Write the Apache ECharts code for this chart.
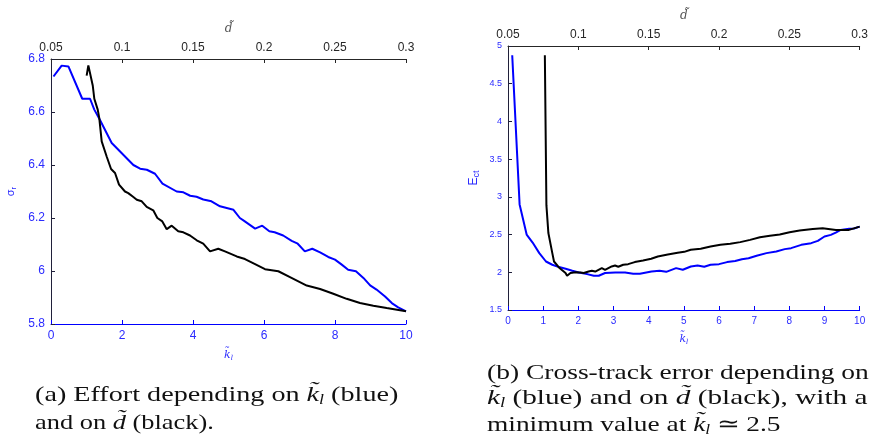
<!DOCTYPE html>
<html><head><meta charset="utf-8">
<script src="https://cdn.jsdelivr.net/npm/echarts@6/dist/echarts.min.js"></script>
<style>html,body{margin:0;padding:0;background:#fff}#c{width:871px;height:447px}</style>
</head><body><div id="c"></div>
<script>
// (a) effort sigma_r
const kA = [0.07,0.3,0.49,0.88,1.1,1.22,1.38,1.71,2.32,2.51,2.7,2.93,3.14,3.54,3.73,3.92,4.1,4.29,4.52,4.76,5.14,5.32,5.46,5.75,5.95,6.15,6.3,6.54,6.78,6.95,7.15,7.36,7.58,7.81,8.0,8.19,8.37,8.59,8.8,8.99,9.17,9.41,9.6,9.78,10];
const sigmaK = [6.734,6.775,6.772,6.65,6.65,6.609,6.57,6.483,6.40,6.386,6.382,6.367,6.33,6.30,6.297,6.284,6.28,6.27,6.263,6.244,6.231,6.20,6.187,6.16,6.171,6.15,6.146,6.134,6.114,6.103,6.074,6.084,6.07,6.053,6.043,6.024,6.005,5.999,5.974,5.946,5.93,5.904,5.879,5.863,5.848];
const dA = [0.0751,0.0763,0.0775,0.0794,0.0805,0.0817,0.0829,0.0840,0.0857,0.0892,0.0923,0.0951,0.0979,0.1021,0.1044,0.1080,0.1104,0.1139,0.1174,0.1220,0.1249,0.1284,0.1315,0.1350,0.1396,0.1432,0.1479,0.1526,0.1572,0.1620,0.1678,0.1725,0.1808,0.1866,0.1937,0.2007,0.2101,0.2183,0.2301,0.2395,0.2488,0.2582,0.2676,0.2770,0.2864,0.3];
const sigmaD = [6.737,6.776,6.772,6.70,6.65,6.65,6.609,6.577,6.489,6.432,6.385,6.37,6.326,6.30,6.294,6.279,6.269,6.263,6.242,6.229,6.20,6.187,6.158,6.171,6.15,6.146,6.134,6.116,6.103,6.074,6.084,6.074,6.055,6.045,6.026,6.007,5.999,5.977,5.945,5.932,5.914,5.895,5.879,5.869,5.86,5.848];
// (b) cross-track error E_ct
const kB = [0.12,0.33,0.53,0.7,0.89,1.08,1.26,1.45,1.64,1.83,2.01,2.25,2.44,2.58,2.76,3.05,3.33,3.56,3.75,4.08,4.31,4.5,4.78,4.97,5.2,5.39,5.58,5.76,6.0,6.23,6.46,6.65,6.84,7.07,7.35,7.63,7.87,8.05,8.34,8.62,8.81,9.0,9.18,9.32,9.46,9.7,9.84,10];
const ectK = [4.877,2.90,2.5,2.394,2.254,2.143,2.10,2.069,2.046,2.02,1.997,1.976,1.954,1.954,1.99,1.997,1.997,1.98,1.98,2.01,2.02,2.006,2.055,2.033,2.077,2.09,2.073,2.10,2.108,2.135,2.15,2.174,2.186,2.22,2.254,2.275,2.307,2.32,2.364,2.386,2.417,2.474,2.496,2.527,2.562,2.576,2.58,2.605];
const dB = [0.0762,0.0773,0.0787,0.0815,0.0827,0.0862,0.0909,0.0920,0.0944,0.0980,0.1015,0.1038,0.1073,0.1096,0.1120,0.1167,0.1190,0.1237,0.1261,0.1284,0.1319,0.1354,0.1401,0.1460,0.1518,0.1565,0.1636,0.1706,0.1753,0.1799,0.1870,0.1940,0.2010,0.2080,0.2151,0.2221,0.2291,0.2362,0.2432,0.2502,0.2573,0.2667,0.2737,0.2831,0.2924,0.3];
const ectD = [4.877,2.89,2.52,2.254,2.143,2.064,1.99,1.954,1.99,2.0,1.997,1.99,2.01,2.02,2.01,2.055,2.033,2.077,2.09,2.073,2.10,2.108,2.135,2.156,2.179,2.209,2.235,2.258,2.271,2.298,2.311,2.341,2.364,2.377,2.40,2.43,2.465,2.483,2.50,2.531,2.553,2.575,2.585,2.562,2.562,2.605];

const topTicks = ['0.05','0.1','0.15','0.2','0.25','0.3'];

const zip = (a,b) => a.map((v,i)=>[v,b[i]]);
const BLUE = '#0000ff', LBL_BLUE = '#2b2bff', DARK = '#262626';
const sans = 'Liberation Sans';

function bottomAxis(grid, interval, fs, gap){
  return {type:'value', gridIndex:grid, position:'bottom', min:0, max:10, interval:interval,
    axisLine:{show:true, onZero:false, lineStyle:{color:BLUE, width:1}},
    axisTick:{show:true, inside:true, length:4, lineStyle:{color:BLUE}},
    axisLabel:{color:LBL_BLUE, fontSize:fs, fontFamily:sans, margin:6},
    splitLine:{show:false},
    name:'{i|k\u0303}{s|l}', nameLocation:'middle', nameGap:gap,
    nameTextStyle:{rich:{i:{fontFamily:'DejaVu Serif', fontStyle:'italic', fontSize:11, color:LBL_BLUE, lineHeight:14},
      s:{fontFamily:'DejaVu Serif', fontStyle:'italic', fontSize:7, color:LBL_BLUE, lineHeight:8, verticalAlign:'bottom'}}}
  };
}
function topAxis(grid, fs){
  return {type:'value', gridIndex:grid, position:'top', min:0.05, max:0.3, interval:0.05,
    axisLine:{show:true, onZero:false, lineStyle:{color:DARK, width:1}},
    axisTick:{show:true, inside:true, length:4, lineStyle:{color:DARK}},
    axisLabel:{color:DARK, fontSize:fs, fontFamily:sans, margin:5,
      formatter:(v)=>topTicks[Math.round((v-0.05)/0.05)]},
    splitLine:{show:false},
    name:'d\u0303', nameLocation:'middle', nameGap:24,
    nameTextStyle:{fontFamily:'DejaVu Serif', fontStyle:'italic', fontSize:12, color:'#555'}
  };
}
function leftAxis(grid, min, max, interval, fs, nameMain, nameSub, gap, nfs){
  return {type:'value', gridIndex:grid, min:min, max:max, interval:interval,
    axisLine:{show:true, onZero:false, lineStyle:{color:'#20203a', width:1}},
    axisTick:{show:true, inside:true, length:4, lineStyle:{color:'#20203a'}},
    axisLabel:{color:LBL_BLUE, fontSize:fs, fontFamily:sans, margin:6,
      formatter:(v)=>String(+v.toFixed(2))},
    splitLine:{show:false},
    name:'{i|'+nameMain+'}{s|'+nameSub+'}', nameLocation:'middle', nameGap:gap, nameRotate:90,
    nameTextStyle:{rich:{i:{fontFamily:sans, fontSize:nfs, color:LBL_BLUE, lineHeight:14},
      s:{fontFamily:sans, fontSize:nfs-3, color:LBL_BLUE, lineHeight:8, verticalAlign:'bottom'}}}
  };
}

const serif = 'Liberation Serif';
const CFS = 22;
const capRich = {
  t:{fontFamily:serif, fontSize:CFS, color:'#111'},
  i:{fontFamily:serif, fontStyle:'italic', fontSize:CFS, color:'#111', lineHeight:24},
  s:{fontFamily:serif, fontStyle:'italic', fontSize:14, color:'#111', lineHeight:12, verticalAlign:'bottom'}
};
function cap(x, y, sx, text){
  return {type:'text', x:x, y:y, scaleX:sx, style:{text:text, rich:capRich, verticalAlign:'middle', align:'left',
    fontFamily:serif, fontSize:CFS, fill:'#111'}};
}

const chart = echarts.init(document.getElementById('c'), null, {renderer:'canvas'});
chart.setOption({
  animation:false,
  backgroundColor:'#fff',
  grid:[{left:51, top:59, width:355, height:265}, {left:508, top:46, width:356, height:264}],
  xAxis:[bottomAxis(0,2,12,24), topAxis(0,12), bottomAxis(1,1,10,22), topAxis(1,12)],
  yAxis:[leftAxis(0,5.8,6.8,0.2,12,'\u03c3','r',33,11), leftAxis(1,1.5,5,0.5,9,'E','ct',27,12)],
  series:[
    {type:'line', xAxisIndex:0, yAxisIndex:0, data:zip(kA,sigmaK), showSymbol:false, lineStyle:{color:BLUE,width:2}},
    {type:'line', xAxisIndex:1, yAxisIndex:0, data:zip(dA,sigmaD), showSymbol:false, lineStyle:{color:'#000',width:2}},
    {type:'line', xAxisIndex:2, yAxisIndex:1, data:zip(kB,ectK), showSymbol:false, lineStyle:{color:BLUE,width:2}},
    {type:'line', xAxisIndex:3, yAxisIndex:1, data:zip(dB,ectD), showSymbol:false, lineStyle:{color:'#000',width:2}}
  ],
  graphic:[
    cap(35, 395, 1.28, '{t|(a) Effort depending on }{i|k\u0303}{s|l}{t| (blue)}'),
    cap(35, 423, 1.2, '{t|and on }{i|d\u0303}{t| (black).}'),
    cap(487, 373, 1.25, '{t|(b) Cross-track error depending on}'),
    cap(487, 398, 1.33, '{i|k\u0303}{s|l}{t| (blue) and on }{i|d\u0303}{t| (black), with a}'),
    cap(487, 425, 1.245, '{t|minimum value at }{i|k\u0303}{s|l}{t| \u2243 2.5}')
  ]
});
</script></body></html>
